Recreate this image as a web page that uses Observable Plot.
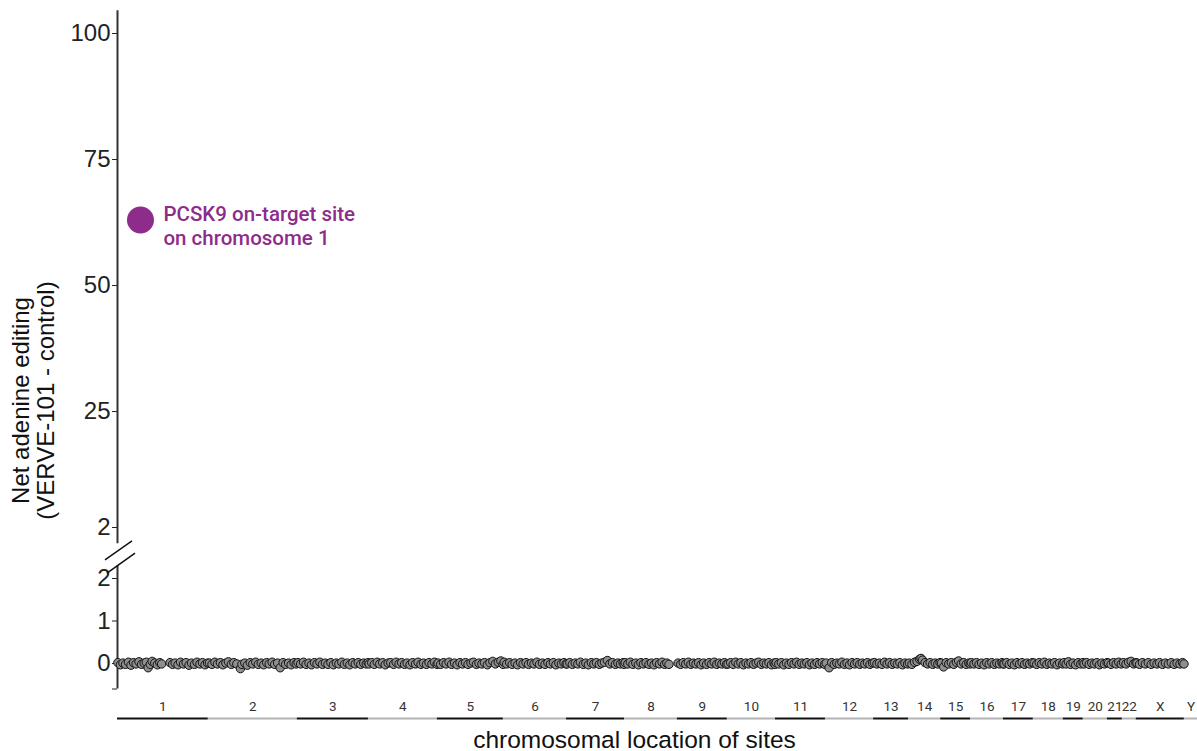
<!DOCTYPE html>
<html><head><meta charset="utf-8">
<script src="https://cdn.jsdelivr.net/npm/d3@7"></script>
<script src="https://cdn.jsdelivr.net/npm/@observablehq/plot@0.6"></script>
<style>
body{margin:0;background:#fff}
#chart{width:1197px;height:751px;position:relative}
#chart svg{display:block;overflow:visible}
</style>
</head><body><div id="chart"></div>
<script>
// chromosomes and their plotted spans (Mb)
const chromNames = ["1","2","3","4","5","6","7","8","9","10","11","12","13","14","15","16","17","18","19","20","21","22","X","Y"];
const chromSpanMb = [249,244,195,189,181,173,159,145,137,132,137,132,96,88,82,90,82,82,55,66,41,38,132,36];

// sites per chromosome: [position within chromosome (Mb), net adenine editing (%)]
const chr1 = [[1,.02],[8,-.03],[15,.01],[22,-.02],[30,.03],[37,-.04],[44,.02],[51,-.01],[59,.04],[66,-.02],[73,.01],[79,.03],[84,-.1],[90,-.02],[95,.05],[102,.01],[109,-.03],[116,.02],[121,-.01],[144,.02],[151,-.02],[158,.01],[166,-.03],[173,.03],[181,-.01],[188,.02],[196,-.04],[203,.01],[211,-.02],[218,.03],[226,-.01],[233,.02],[240,-.03],[247,.01]];
const chr2 = [[3,.01],[10,-.02],[18,.03],[25,-.01],[33,.02],[40,-.03],[48,.01],[55,.04],[63,-.02],[70,.02],[78,-.01],[88,-.12],[92,-.02],[100,.01],[107,-.04],[115,.02],[122,-.01],[130,.03],[137,-.02],[145,.01],[152,-.03],[160,.02],[167,-.01],[175,.03],[182,-.02],[190,.01],[197,-.1],[205,.02],[212,-.02],[220,.01],[227,-.03],[235,.02],[241,-.01]];
const chr3 = [[2,.02],[9,-.01],[17,.03],[24,-.02],[32,.01],[39,-.03],[47,.02],[54,-.01],[62,.03],[69,-.02],[77,.01],[84,-.02],[92,.02],[99,-.03],[107,.01],[114,-.01],[122,.03],[129,-.02],[137,.01],[144,-.03],[152,.02],[159,-.01],[167,.02],[174,-.02],[182,.01],[189,-.01],[194,.02]];
const chr4 = [[2,-.01],[9,.02],[16,-.02],[24,.03],[31,-.01],[39,.02],[46,-.03],[54,.01],[61,.02],[69,-.02],[76,.03],[84,-.01],[91,.02],[99,-.02],[106,.01],[114,-.03],[121,.02],[129,-.01],[136,.03],[144,-.02],[151,.01],[159,-.02],[166,.02],[174,-.01],[181,.03],[188,-.02]];
const chr5 = [[2,.01],[9,-.02],[17,.02],[24,-.01],[32,.03],[39,-.02],[47,.01],[54,-.03],[62,.02],[69,-.01],[77,.02],[84,-.02],[92,.01],[99,.03],[107,-.02],[114,.01],[122,-.01],[129,.02],[137,-.03],[144,.02],[152,.05],[159,-.01],[167,.03],[174,.06],[180,-.02]];
const chr6 = [[2,.03],[9,-.01],[17,.02],[24,-.02],[32,.01],[39,-.03],[47,.02],[54,-.01],[62,.02],[69,-.02],[77,.01],[84,-.01],[92,.03],[99,-.02],[107,.01],[114,-.02],[122,.02],[129,-.01],[137,.02],[144,-.03],[152,.01],[159,-.01],[166,.02],[172,-.01]];
const chr7 = [[2,-.01],[9,.02],[16,-.02],[24,.01],[31,-.01],[38,.03],[46,-.02],[53,.01],[60,-.03],[68,.02],[75,-.01],[82,.02],[90,-.02],[97,.01],[104,.03],[112,.07],[119,-.01],[126,.02],[134,-.02],[141,.01],[148,-.01],[155,.02],[158,-.02]];
const chr8 = [[2,.02],[9,-.01],[16,.03],[23,-.02],[31,.01],[38,-.03],[45,.02],[52,-.01],[59,.02],[67,-.02],[74,.01],[81,-.03],[88,.02],[96,-.01],[103,.03],[110,-.02],[116,.01],[122,-.02]];
const chr9 = [[2,.01],[9,-.02],[16,.02],[23,-.01],[30,.03],[37,-.02],[44,.01],[51,-.01],[58,.02],[65,-.03],[72,.01],[80,-.02],[87,.02],[94,-.01],[101,.03],[108,-.02],[115,.01],[122,-.01],[129,.02],[135,-.02]];
const chr10 = [[2,-.01],[9,.02],[16,-.02],[23,.03],[30,-.01],[37,.02],[44,-.03],[51,.01],[58,-.01],[65,.02],[72,-.02],[79,.01],[86,.03],[93,-.02],[100,.01],[107,-.01],[114,.02],[121,-.03],[128,.01],[131,-.02]];
const chr11 = [[2,.02],[9,-.01],[16,.02],[23,-.03],[30,.01],[37,-.02],[44,.02],[51,-.01],[58,.03],[65,-.02],[72,.01],[79,-.01],[86,.02],[93,-.03],[100,.01],[107,-.02],[114,.02],[121,-.01],[128,.02],[135,-.02]];
const chr12 = [[2,.01],[10,-.1],[17,.02],[24,-.02],[31,.01],[38,-.01],[45,.03],[52,-.02],[59,.01],[66,-.03],[73,.02],[80,-.01],[87,.02],[94,-.02],[101,.01],[108,-.01],[115,.02],[122,-.02],[129,.01]];
const chr13 = [[2,.02],[9,-.01],[16,.01],[23,-.02],[30,.03],[37,-.01],[44,.02],[51,-.02],[58,.01],[65,-.01],[72,.02],[79,-.03],[86,.01],[93,-.01]];
const chr14 = [[2,.01],[9,-.02],[16,.03],[23,.05],[30,.1],[34,.12],[38,.08],[45,.02],[52,-.01],[59,.02],[66,-.02],[73,.01],[80,-.01],[86,.02]];
const chr15 = [[2,.01],[8,-.08],[15,.02],[22,-.01],[29,.02],[36,-.02],[43,.03],[49,.06],[56,-.01],[63,.02],[70,-.02],[77,.01],[81,-.01]];
const chr16 = [[2,.02],[9,-.01],[16,.02],[23,-.02],[30,.01],[37,-.03],[44,.02],[51,-.01],[58,.02],[65,-.02],[72,.01],[79,-.01],[86,.02],[89,-.01]];
const chr17 = [[2,-.01],[9,.02],[16,-.02],[23,.01],[30,-.03],[37,.02],[44,-.01],[51,.02],[58,-.02],[65,.01],[72,-.01],[79,.02]];
const chr18 = [[2,.01],[9,-.02],[16,.02],[23,-.01],[30,.03],[37,-.02],[44,.01],[51,-.01],[58,.02],[65,-.03],[72,.01],[80,-.01]];
const chr19 = [[2,.02],[8,-.01],[14,.04],[20,-.02],[27,.01],[34,-.03],[41,.02],[48,-.01],[54,.02]];
const chr20 = [[2,-.01],[9,.02],[16,-.02],[23,.01],[30,-.01],[37,.02],[44,-.03],[51,.01],[58,-.01],[65,.02]];
const chr21 = [[3,.01],[10,-.02],[17,.02],[24,-.01],[31,.03],[38,-.01]];
const chr22 = [[3,.02],[10,-.01],[17,.03],[24,.05],[31,-.01],[37,.02]];
const chrX = [[2,.01],[9,-.02],[17,.02],[25,-.01],[33,.02],[41,-.02],[49,.01],[57,-.01],[64,.02],[72,-.02],[80,.01],[88,-.01],[96,.02],[104,-.02],[112,.01],[120,-.01],[127,.02],[131,-.01]];
const chrY = [];
const siteGroups = [chr1,chr2,chr3,chr4,chr5,chr6,chr7,chr8,chr9,chr10,chr11,chr12,chr13,chr14,chr15,chr16,chr17,chr18,chr19,chr20,chr21,chr22,chrX,chrY];

// highlighted on-target site
const onTargetChrom = "1";
const onTargetPosMb = 63;
const onTargetNet = 63;
const onTargetLabel = "PCSK9 on-target site\non chromosome 1";

// axes
const upperTicks = [2, 25, 50, 75, 100];
const lowerTicks = [-0.6, 0, 1, 2];
const yTitle = "Net adenine editing\n(VERVE-101 - control)";
const xTitle = "chromosomal location of sites";

// build tables
let acc = 0;
const chroms = chromNames.map((name, i) => {
  const start = acc; acc += chromSpanMb[i];
  return {name, start, end: acc, mid: (start + acc) / 2, shade: i % 2 ? "#b3b3b3" : "#111111"};
});
const total = acc;
const startOf = Object.fromEntries(chroms.map(c => [c.name, c.start]));
const sites = siteGroups.flatMap((g, i) => g.map(([p, v]) => ({chrom: chromNames[i], gx: chroms[i].start + p, net: v})));
const onTarget = [{gx: startOf[onTargetChrom] + onTargetPosMb, net: onTargetNet, label: onTargetLabel}];

const purple = "#8e2c8b";
const sans = "'Liberation Sans', Arial, sans-serif";
const W = 1197;

const upperPlot = Plot.plot({
  width: W, height: 538,
  marginLeft: 117, marginRight: 0, marginTop: 33, marginBottom: 11,
  x: {domain: [0, total], axis: null},
  y: {domain: [2, 100], axis: null},
  style: {fontFamily: sans, background: "transparent", overflow: "visible"},
  marks: [
    Plot.ruleX([0], {y1: -1.2, y2: 104.5, stroke: "#333", strokeWidth: 2}),
    Plot.axisY({ticks: upperTicks, tickSize: 5, tickPadding: 2, fontSize: 24, color: "#222", label: null, tickFormat: d => String(d)}),
    Plot.dot(onTarget, {x: "gx", y: "net", r: 13.5, fill: purple}),
    Plot.text(onTarget, {x: "gx", y: "net", text: "label", dx: 23, dy: 5, textAnchor: "start", lineAnchor: "middle", lineHeight: 1.2, fill: purple, fontSize: 20.5, fontFamily: "Roboto, sans-serif", fontWeight: 500}),
    Plot.text([yTitle], {frameAnchor: "left", rotate: -90, dx: -84, dy: 120, fontSize: 24, lineHeight: 1.05, fill: "#111", textAnchor: "middle", lineAnchor: "middle"})
  ]
});

const lowerPlot = Plot.plot({
  width: W, height: 213,
  marginLeft: 117, marginRight: 0, marginTop: 40, marginBottom: 62.5,
  x: {domain: [0, total], axis: null},
  y: {domain: [-0.6, 2], axis: null},
  color: {type: "identity"},
  style: {fontFamily: sans, background: "transparent", overflow: "visible"},
  marks: [
    Plot.ruleX([0], {y1: -0.6, y2: 2.3, stroke: "#333", strokeWidth: 2}),
    Plot.axisY({ticks: lowerTicks, tickSize: 5, tickPadding: 2, fontSize: 24, color: "#222", label: null, tickFormat: d => d < 0 ? "" : String(d)}),
    Plot.dot(sites, {x: "gx", y: "net", r: 4.2, fill: "#8f8f8f", stroke: "#111", strokeWidth: 1}),
    Plot.ruleY(chroms, {x1: "start", x2: "end", y: () => -0.6, dy: 29.5, stroke: "shade", strokeWidth: 2}),
    Plot.text(chroms, {x: "mid", y: () => -0.6, text: "name", dy: 18, fontSize: 13.5, fill: "#333", fontFamily: "Roboto, sans-serif", lineAnchor: "middle"}),
    Plot.text([xTitle], {frameAnchor: "bottom", dx: -23, dy: 51.5, fontSize: 24.5, fill: "#111", lineAnchor: "middle"})
  ]
});

const chart = document.getElementById("chart");
chart.append(upperPlot, lowerPlot);

// axis-break marks, placed with the lower panel's scales
const xs = lowerPlot.scale("x"), ys = lowerPlot.scale("y");
const x0 = xs.apply(0);
const svg = d3.select(lowerPlot);
[[2.65, -12, 15, 9.5], [2.35, -10, 18, 10]].forEach(([v, a, b, h]) => {
  const yc = ys.apply(v);
  svg.append("line").attr("x1", x0 + a).attr("y1", yc + h).attr("x2", x0 + b).attr("y2", yc - h)
    .attr("stroke", "#111").attr("stroke-width", 1.5);
});
</script></body></html>
